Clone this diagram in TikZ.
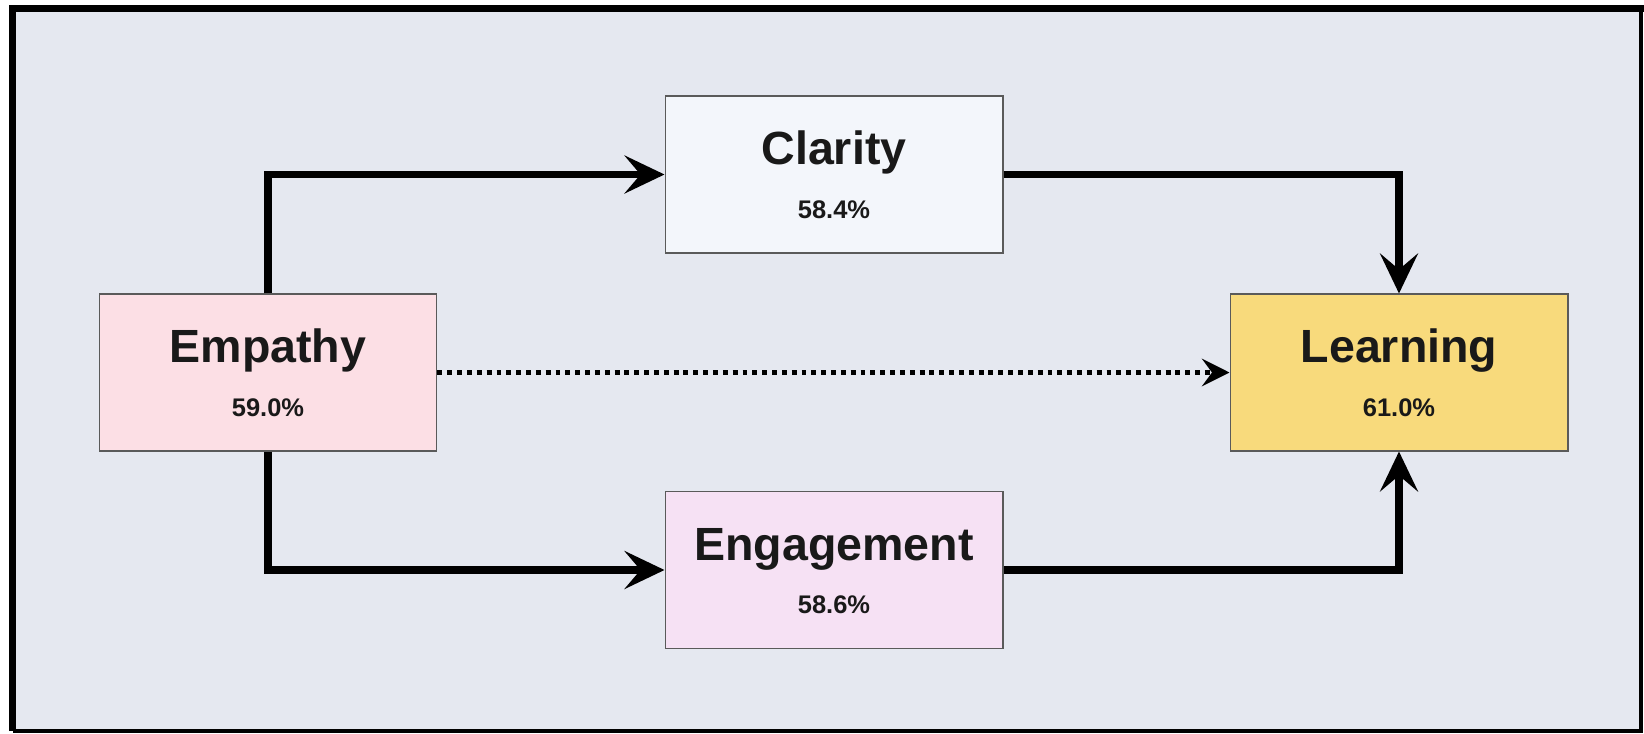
\documentclass[tikz,border=0pt]{standalone}
\usepackage{fontspec}
\setmainfont{Liberation Sans}
\usepackage{tikz}
\usetikzlibrary{arrows.meta,positioning}

\definecolor{paper}{HTML}{E5E8F0}
\definecolor{empathyfill}{HTML}{FCDFE5}
\definecolor{clarityfill}{HTML}{F3F6FB}
\definecolor{learningfill}{HTML}{F8DA7C}
\definecolor{engagefill}{HTML}{F6E1F4}
\definecolor{boxline}{HTML}{5A5A5A}

\newcommand{\boxtitle}[1]{{\fontsize{26.5}{30.5}\selectfont\rule{0pt}{19.7pt}#1}}

\begin{document}
\begin{tikzpicture}[x=0.02cm, y=-0.02cm]
  \tikzstyle{element}=[rectangle, draw=boxline, line width=0.6pt, minimum width=6.76cm, minimum height=3.14cm,
                       align=center, text=black!90, font=\fontsize{14.5}{30.5}\selectfont\bfseries]
  \tikzstyle{leadsto}=[-{Stealth[length=0.8cm, width=0.76cm, inset=0.32cm]}, line width=4pt]
  \tikzstyle{maybe}=[-{Stealth[length=0.55cm, width=0.55cm, inset=0.2cm]}, line width=2.8pt,
                     dash pattern=on 2.8pt off 2.8pt]

  \useasboundingbox (0,0) rectangle (1644,734);
  \fill[white] (0,0) rectangle (1644,734);
  \fill[paper] (12,8) rectangle (1641,731);

  % frame
  \draw[line width=4pt] (12.5,731) -- (12.5,8.5) -- (1644,8.5);
  \draw[line width=1.8pt] (12.5,731) -- (1641,731) -- (1641,8.5);

  % the four factors
  \node[element, fill=empathyfill] (empathy) at (268,372.5) {\boxtitle{Empathy}\\59.0\%};
  \node[element, fill=clarityfill] (clarity) at (834,174.5) {\boxtitle{Clarity}\\58.4\%};
  \node[element, fill=engagefill] (engagement) at (834,570) {\boxtitle{Engagement}\\58.6\%};
  \node[element, fill=learningfill] (learning) at (1399,372.5) {\boxtitle{Learning}\\61.0\%};

  % paths through clarity and engagement
  \draw[leadsto] (empathy.north) |- (clarity.west);
  \draw[leadsto] (clarity.east) -| (learning.north);
  \draw[leadsto] (empathy.south) |- (engagement.west);
  \draw[leadsto] (engagement.east) -| (learning.south);

  % direct path
  \draw[maybe] (empathy.east) -- (learning.west);
\end{tikzpicture}
\end{document}
